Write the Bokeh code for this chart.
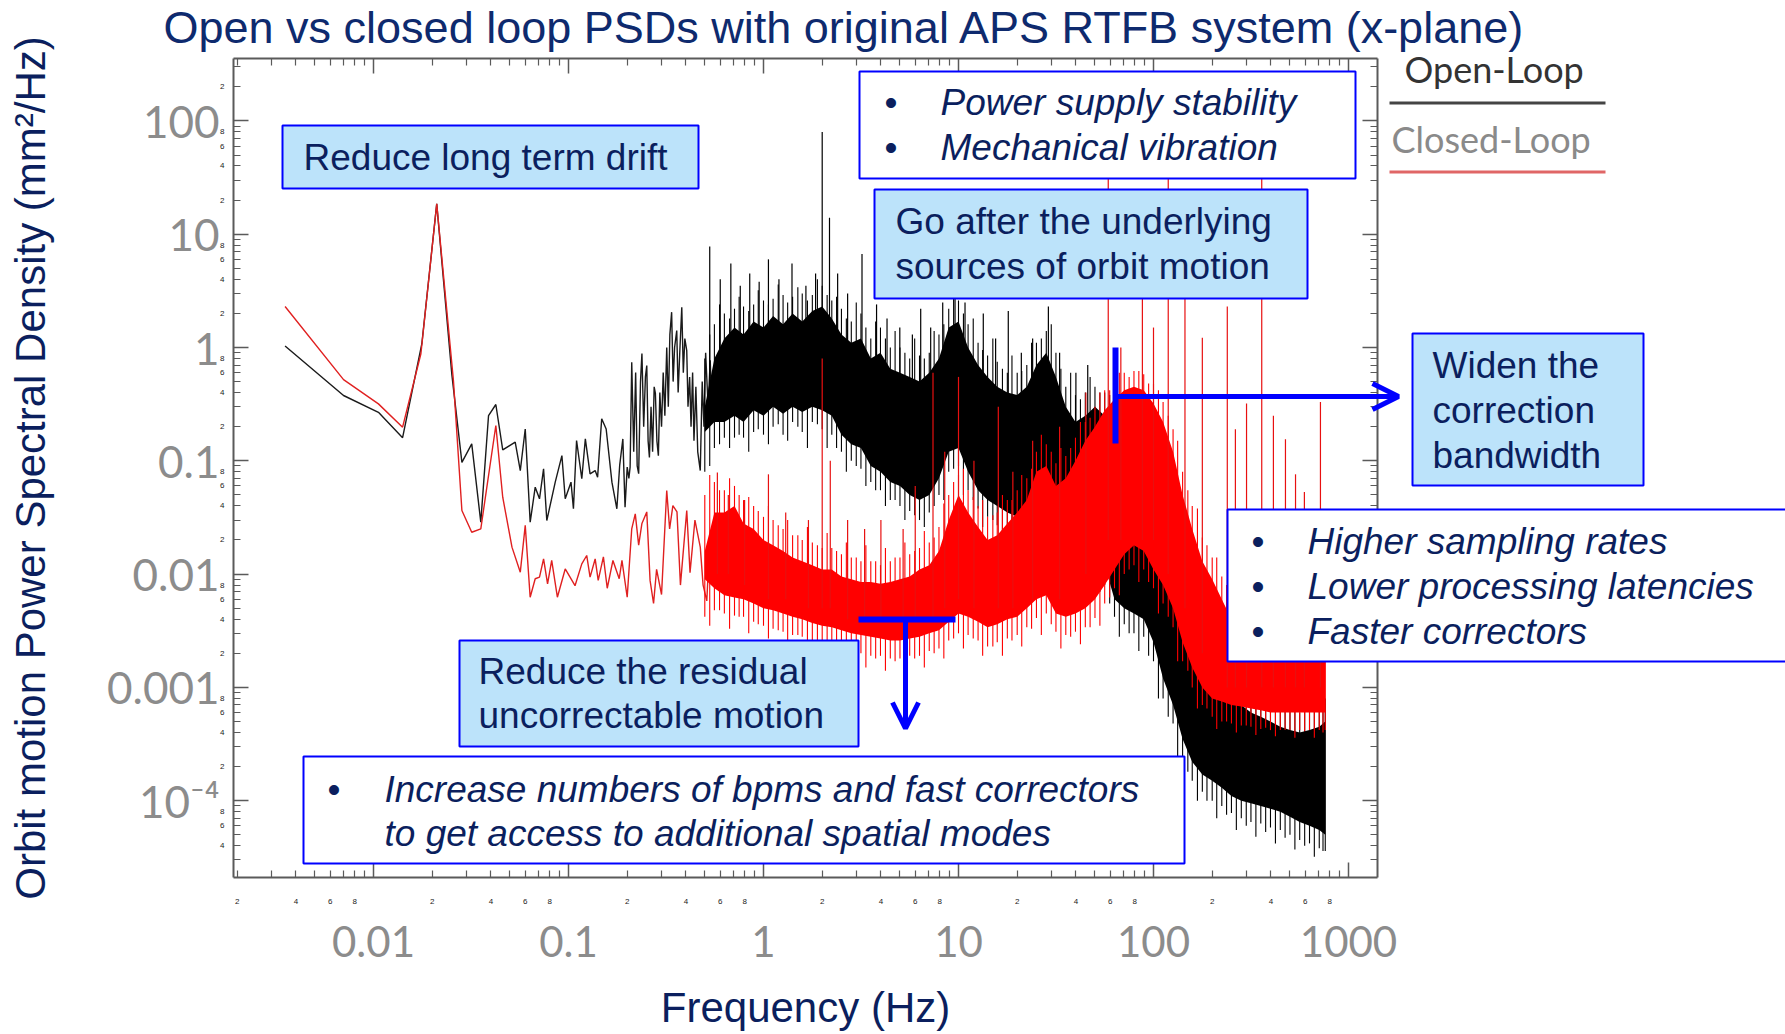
from bokeh.plotting import figure
from bokeh.models import (Range1d, LogAxis, FixedTicker, BoxAnnotation, Label,
                          Arrow, OpenHead)
from bokeh.embed import file_html
from bokeh.resources import INLINE

# ---------------- data ----------------
open_lf_f = [
    0.00352, 0.00702, 0.0106, 0.0141, 0.0177, 0.0211, 0.0252, 0.0284, 0.0319, 0.0355,
    0.0389, 0.0424, 0.046, 0.0533, 0.0566, 0.06, 0.0636, 0.0675, 0.071, 0.0745,
    0.0774, 0.0855, 0.0925, 0.0962, 0.103, 0.106, 0.110, 0.117, 0.122, 0.129,
    0.137, 0.141, 0.148, 0.156, 0.167, 0.177, 0.183, 0.19, 0.195, 0.2,
    0.204, 0.207, 0.211, 0.216, 0.221, 0.225, 0.229, 0.234, 0.238, 0.243,
    0.248, 0.252, 0.256, 0.26, 0.265, 0.27, 0.275, 0.279, 0.284, 0.289,
    0.294, 0.3, 0.306, 0.312, 0.319, 0.325, 0.331, 0.338, 0.344, 0.35,
    0.359, 0.365, 0.372, 0.381, 0.388, 0.395, 0.404, 0.41, 0.418, 0.425,
    0.433, 0.44, 0.45, 0.46, 0.474, 0.485, 0.495, 0.505, 0.52, 0.533,
    0.545]
open_lf_p = [
    1.03, 0.377, 0.268, 0.16, 1.08, 18.5, 0.586, 0.097, 0.141, 0.0287,
    0.251, 0.314, 0.125, 0.146, 0.082, 0.191, 0.0287, 0.0585, 0.0462, 0.085,
    0.0297, 0.0648, 0.111, 0.0462, 0.0648, 0.0377, 0.151, 0.0694, 0.156, 0.0768,
    0.082, 0.0717, 0.235, 0.191, 0.0648, 0.0377, 0.091, 0.156, 0.039, 0.088,
    0.07, 0.088, 0.74, 0.12, 0.6, 0.09, 0.077, 0.5, 0.885, 0.2,
    0.55, 0.694, 0.15, 0.107, 0.3, 0.12, 0.45, 0.393, 0.15, 0.111,
    0.4, 0.2, 0.6, 0.25, 1.0, 0.3, 1.3, 2.05, 0.5, 1.0,
    1.41, 0.4, 0.9, 2.27, 0.6, 1.2, 0.94, 0.3, 0.55, 0.2,
    0.6, 0.15, 0.45, 0.12, 0.082, 0.5, 0.2, 0.9, 0.3, 0.77,
    0.25]

closed_lf_f = [
    0.00352, 0.00702, 0.0106, 0.0141, 0.0175, 0.0211, 0.0257, 0.0284, 0.0319, 0.0355,
    0.0424, 0.046, 0.0513, 0.0566, 0.06, 0.0636, 0.0675, 0.071, 0.0745, 0.0781,
    0.082, 0.0877, 0.0962, 0.108, 0.117, 0.124, 0.129, 0.137, 0.142, 0.151,
    0.158, 0.169, 0.182, 0.188, 0.2, 0.211, 0.22, 0.229, 0.238, 0.252,
    0.262, 0.273, 0.283, 0.3, 0.319, 0.33, 0.343, 0.36, 0.375, 0.404,
    0.42, 0.445, 0.474, 0.49, 0.512, 0.53, 0.55]
closed_lf_p = [
    2.3, 0.52, 0.318, 0.198, 0.88, 18.5, 0.51, 0.0364, 0.0234, 0.0251,
    0.205, 0.0477, 0.0173, 0.0104, 0.0269, 0.00625, 0.0091, 0.0094, 0.0136, 0.0082,
    0.0132, 0.00625, 0.0111, 0.0079, 0.0123, 0.0146, 0.0094, 0.0136, 0.0088, 0.0142,
    0.0075, 0.0132, 0.0091, 0.0132, 0.00625, 0.0251, 0.034, 0.018, 0.028, 0.0354,
    0.0088, 0.0055, 0.011, 0.0066, 0.0547, 0.025, 0.0403, 0.0354, 0.008, 0.0364,
    0.0103, 0.03, 0.0173, 0.008, 0.0058, 0.02, 0.011]

band_f = [
    0.5, 0.56, 0.63, 0.71, 0.79, 0.89, 1.0, 1.12, 1.26, 1.41,
    1.58, 1.78, 2.0, 2.24, 2.51, 2.82, 3.16, 3.55, 3.98, 4.47,
    5.01, 5.62, 6.31, 7.08, 7.94, 8.91, 10.0, 11.2, 12.6, 14.1,
    15.8, 17.8, 20.0, 22.4, 25.1, 28.2, 31.6, 35.5, 39.8, 44.7,
    50.1, 56.2, 63.1, 70.8, 79.4, 89.1, 100, 112, 126, 141,
    158, 178, 200, 224, 251, 282, 316, 355, 398, 447,
    501, 562, 631, 708, 760]
open_band_hi = [
    0.3, 0.8, 1.2, 1.5, 1.3, 1.7, 1.5, 1.9, 1.6, 2.0,
    1.7, 2.1, 2.3, 1.8, 1.3, 1.1, 1.2, 0.8, 0.9, 0.65,
    0.6, 0.55, 0.5, 0.6, 0.8, 1.5, 1.7, 1.0, 0.7, 0.55,
    0.45, 0.4, 0.38, 0.45, 0.7, 0.9, 0.55, 0.3, 0.22, 0.25,
    0.3, 0.25, 0.15, 0.08, 0.05, 0.04, 0.025, 0.012, 0.006, 0.003,
    0.0018, 0.0013, 0.0011, 0.0009, 0.0008, 0.0007, 0.0006, 0.00055, 0.0005, 0.00045,
    0.00042, 0.0004, 0.00042, 0.00045, 0.0005]
open_band_lo = [
    0.18, 0.22, 0.22, 0.25, 0.22, 0.28, 0.25, 0.3, 0.26, 0.3,
    0.27, 0.3, 0.28, 0.25, 0.17, 0.14, 0.13, 0.09, 0.08, 0.065,
    0.06, 0.05, 0.045, 0.05, 0.07, 0.12, 0.13, 0.08, 0.055, 0.045,
    0.04, 0.035, 0.032, 0.035, 0.045, 0.05, 0.04, 0.028, 0.024, 0.022,
    0.02, 0.012, 0.006, 0.005, 0.0045, 0.004, 0.0025, 0.0012, 0.0007, 0.00035,
    0.00022, 0.00017, 0.00015, 0.00013, 0.00011, 0.0001, 0.000095, 0.00009, 0.000085, 0.00008,
    0.000072, 0.000065, 0.00006, 0.000055, 0.00005]
closed_band_hi = [
    0.016, 0.035, 0.035, 0.04, 0.028, 0.025, 0.02, 0.018, 0.016, 0.014,
    0.013, 0.012, 0.011, 0.011, 0.0095, 0.009, 0.0085, 0.0085, 0.0082, 0.0085,
    0.009, 0.0095, 0.011, 0.012, 0.016, 0.03, 0.05, 0.035, 0.026, 0.02,
    0.022, 0.028, 0.035, 0.045, 0.08, 0.09, 0.06, 0.07, 0.1, 0.15,
    0.2, 0.28, 0.35, 0.42, 0.45, 0.42, 0.32, 0.22, 0.12, 0.05,
    0.025, 0.013, 0.009, 0.006, 0.004, 0.0033, 0.003, 0.0028, 0.0026, 0.0025,
    0.0024, 0.0023, 0.0022, 0.0022, 0.0022]
closed_band_lo = [
    0.009, 0.0075, 0.0065, 0.0062, 0.006, 0.0055, 0.005, 0.0048, 0.0045, 0.0042,
    0.004, 0.0037, 0.0035, 0.0034, 0.0032, 0.003, 0.0029, 0.0028, 0.0027, 0.0026,
    0.0026, 0.0027, 0.0028, 0.003, 0.0032, 0.0038, 0.0045, 0.0042, 0.0038, 0.0034,
    0.0036, 0.004, 0.0042, 0.005, 0.006, 0.0065, 0.0045, 0.0042, 0.0045, 0.005,
    0.006, 0.008, 0.011, 0.015, 0.018, 0.016, 0.011, 0.008, 0.005, 0.0025,
    0.0015, 0.001, 0.0008, 0.00075, 0.0007, 0.00068, 0.00065, 0.00063, 0.0006, 0.0006,
    0.0006, 0.0006, 0.0006, 0.0006, 0.0006]

# noise fringe of the dense spectra: extent of the jitter, between the band points ...
fringe_f = [
    0.53, 0.595, 0.67, 0.75, 0.84, 0.94, 1.06, 1.19, 1.33, 1.5,
    1.68, 1.89, 2.12, 2.37, 2.66, 2.99, 3.35, 3.76, 4.22, 4.73,
    5.31, 5.96, 6.68, 7.5, 8.41, 9.44, 10.6, 11.9, 13.3, 15.0,
    16.8, 18.8, 21.1, 23.7, 26.6, 29.9, 33.5, 37.6, 42.2, 47.3,
    53.1, 59.6, 66.8, 75, 84.1, 94.4, 106, 119, 133, 150,
    168, 188, 211, 237, 266, 299, 335, 376, 422, 473,
    531, 596, 668, 740]
open_fringe_lo = [
    0.09, 0.14, 0.13, 0.17, 0.12, 0.19, 0.14, 0.21, 0.15, 0.2,
    0.13, 0.21, 0.13, 0.13, 0.08, 0.09, 0.06, 0.055, 0.04, 0.045,
    0.03, 0.033, 0.026, 0.04, 0.045, 0.085, 0.05, 0.045, 0.026, 0.03,
    0.019, 0.024, 0.018, 0.028, 0.025, 0.032, 0.017, 0.018, 0.012, 0.014,
    0.007, 0.0055, 0.0028, 0.003, 0.0021, 0.0019, 0.0008, 0.00055, 0.00024, 0.00018,
    0.0001, 0.0001, 0.00007, 0.000075, 0.000055, 0.00006, 0.000048, 0.000053, 0.000042, 0.000047,
    0.000037, 0.00004, 0.000032, 0.000036]
open_fringe_hi = [
    1.3, 2.4, 1.8, 2.8, 2.1, 3.2, 2.4, 3.6, 2.5, 3.4,
    2.6, 4.0, 2.9, 2.8, 1.8, 2.5, 1.5, 1.7, 1.2, 1.4,
    0.9, 1.2, 0.8, 1.4, 1.6, 3.0, 2.0, 1.8, 0.95, 1.2,
    0.65, 0.85, 0.62, 1.1, 1.2, 1.6, 0.65, 0.6, 0.35, 0.55,
    0.4, 0.38, 0.18, 0.13, 0.07, 0.065, 0.03, 0.018, 0.007, 0.0048,
    0.0024, 0.0023, 0.0015, 0.0016, 0.0011, 0.0012, 0.0009, 0.001, 0.00075, 0.0008,
    0.00065, 0.00072, 0.00065, 0.0008]
closed_fringe_lo = [
    0.0035, 0.0048, 0.0033, 0.0042, 0.003, 0.0036, 0.0027, 0.0032, 0.0024, 0.0029,
    0.0021, 0.0025, 0.0018, 0.0022, 0.0016, 0.002, 0.0015, 0.0018, 0.0014, 0.0017,
    0.0014, 0.0018, 0.0015, 0.002, 0.0018, 0.0027, 0.0022, 0.0027, 0.0019, 0.0023,
    0.0019, 0.0026, 0.0023, 0.0033, 0.0029, 0.0036, 0.0022, 0.0028, 0.0024, 0.0034,
    0.0035, 0.0062, 0.0065, 0.011, 0.0085, 0.0085, 0.0045, 0.0042, 0.0017, 0.0014,
    0.00065, 0.00065, 0.00043, 0.0005, 0.0004, 0.00046, 0.00038, 0.00044, 0.00037, 0.00042,
    0.00036, 0.00041, 0.00036, 0.0004]
closed_fringe_hi = [
    0.075, 0.055, 0.07, 0.05, 0.048, 0.036, 0.04, 0.027, 0.03, 0.022,
    0.026, 0.018, 0.023, 0.016, 0.019, 0.014, 0.018, 0.013, 0.017, 0.014,
    0.019, 0.016, 0.024, 0.021, 0.042, 0.065, 0.085, 0.048, 0.045, 0.033,
    0.05, 0.045, 0.075, 0.085, 0.17, 0.12, 0.13, 0.13, 0.22, 0.24,
    0.4, 0.42, 0.6, 0.55, 0.62, 0.48, 0.42, 0.25, 0.15, 0.055,
    0.038, 0.018, 0.014, 0.008, 0.007, 0.005, 0.0052, 0.0042, 0.0045, 0.0038,
    0.0041, 0.0035, 0.0038, 0.0034]

# ... and at the band points themselves (shorter jitter)
open_fringe2_hi = [
    0.8, 1.6, 2.0, 2.2, 2.3, 2.4, 2.6, 2.7, 2.9, 2.8,
    3.0, 2.9, 3.5, 2.6, 2.2, 1.7, 2.0, 1.2, 1.5, 1.0,
    1.0, 0.8, 0.85, 0.9, 1.3, 2.2, 2.6, 1.6, 1.1, 0.85,
    0.75, 0.6, 0.6, 0.7, 1.1, 1.4, 0.9, 0.45, 0.38, 0.4,
    0.45, 0.4, 0.25, 0.12, 0.08, 0.06, 0.04, 0.02, 0.009, 0.0048,
    0.0028, 0.002, 0.0017, 0.0014, 0.0012, 0.001, 0.00095, 0.0008, 0.0008, 0.0007,
    0.00065, 0.0006, 0.00065, 0.0007, 0.0008]
open_fringe2_lo = [
    0.08, 0.13, 0.16, 0.16, 0.16, 0.18, 0.17, 0.2, 0.17, 0.22,
    0.18, 0.22, 0.19, 0.17, 0.12, 0.1, 0.085, 0.065, 0.055, 0.045,
    0.04, 0.036, 0.03, 0.035, 0.05, 0.08, 0.09, 0.055, 0.038, 0.032,
    0.027, 0.025, 0.022, 0.024, 0.03, 0.035, 0.027, 0.02, 0.016, 0.016,
    0.013, 0.008, 0.0042, 0.0036, 0.003, 0.0028, 0.0017, 0.0008, 0.00048, 0.00024,
    0.00015, 0.00012, 0.0001, 0.00009, 0.000078, 0.00007, 0.000065, 0.000063, 0.000058, 0.000055,
    0.00005, 0.000045, 0.000042, 0.000038, 0.000036]
closed_fringe2_hi = [
    0.05, 0.065, 0.055, 0.06, 0.045, 0.04, 0.032, 0.03, 0.025, 0.022,
    0.02, 0.019, 0.017, 0.017, 0.015, 0.014, 0.013, 0.013, 0.012, 0.013,
    0.014, 0.015, 0.017, 0.019, 0.026, 0.05, 0.075, 0.055, 0.04, 0.032,
    0.035, 0.045, 0.055, 0.07, 0.12, 0.14, 0.095, 0.11, 0.16, 0.22,
    0.3, 0.42, 0.5, 0.6, 0.62, 0.58, 0.48, 0.33, 0.19, 0.08,
    0.04, 0.021, 0.014, 0.0095, 0.0065, 0.0052, 0.0048, 0.0044, 0.0041, 0.004,
    0.0038, 0.0036, 0.0035, 0.0035, 0.0035]
closed_fringe2_lo = [
    0.0042, 0.0048, 0.0045, 0.0043, 0.0042, 0.0038, 0.0035, 0.0033, 0.0031, 0.0029,
    0.0028, 0.0026, 0.0024, 0.0023, 0.0022, 0.0021, 0.002, 0.0019, 0.0019, 0.0018,
    0.0018, 0.0019, 0.0019, 0.0021, 0.0022, 0.0026, 0.003, 0.0029, 0.0026, 0.0023,
    0.0025, 0.0027, 0.0029, 0.0034, 0.0041, 0.0045, 0.0031, 0.0029, 0.0031, 0.0034,
    0.0041, 0.0055, 0.0075, 0.01, 0.012, 0.011, 0.0075, 0.0055, 0.0034, 0.0017,
    0.001, 0.0007, 0.00055, 0.0005, 0.00048, 0.00046, 0.00045, 0.00043, 0.00042, 0.00042,
    0.00042, 0.00042, 0.00042, 0.00042, 0.00042]

open_spike_f = [
    0.53, 0.6, 0.68, 0.76, 0.85, 0.95, 1.06, 1.2, 1.4, 1.65,
    1.85, 2.0, 2.18, 2.4, 2.7, 3.2, 3.8, 4.3, 5.0, 5.8,
    6.4, 7.2, 8.3, 9.6, 10.8, 13.4, 15.5, 18.0, 21.0, 24.0,
    28.9, 33.0, 40.0, 46.0]
open_spike_top = [
    7.8, 4.0, 5.5, 3.5, 4.5, 3.8, 6.0, 4.0, 5.5, 3.5,
    4.5, 80, 14, 4.5, 3.0, 6.7, 2.4, 1.8, 1.5, 1.3,
    2.2, 1.5, 2.5, 3.0, 2.5, 2.0, 1.2, 2.1, 0.9, 1.2,
    2.3, 0.9, 0.6, 0.7]
open_spike_base = [
    0.3, 0.3, 0.3, 0.4, 0.4, 0.4, 0.4, 0.4, 0.4, 0.4,
    0.4, 0.4, 0.4, 0.3, 0.2, 0.2, 0.1, 0.1, 0.1, 0.08,
    0.08, 0.08, 0.1, 0.15, 0.15, 0.08, 0.06, 0.05, 0.05, 0.05,
    0.06, 0.04, 0.03, 0.03]

closed_spike_f = [
    0.58, 0.66, 0.8, 1.06, 1.3, 1.7, 2.0, 2.2, 2.7, 3.3,
    4.0, 5.2, 6.0, 7.4, 8.5, 10.0, 12.0, 16.0, 19.0, 24.0,
    33.0, 45.0, 58.6, 68.0, 87.7, 100, 119, 145, 178, 239,
    263, 300, 359, 412, 475, 535, 594, 718]
closed_spike_top = [
    0.079, 0.05, 0.045, 0.076, 0.035, 0.03, 0.8, 0.1, 0.03, 0.025,
    0.03, 0.025, 0.06, 0.6, 0.12, 0.55, 0.1, 0.3, 0.08, 0.15,
    0.2, 0.4, 60, 1.0, 8, 1.5, 60, 8, 1.22, 2.3,
    0.19, 0.32, 60, 0.25, 0.155, 0.076, 0.053, 0.33]
closed_spike_base = [
    0.01, 0.01, 0.008, 0.006, 0.006, 0.005, 0.005, 0.005, 0.004, 0.004,
    0.004, 0.004, 0.004, 0.004, 0.005, 0.006, 0.005, 0.005, 0.005, 0.006,
    0.006, 0.01, 0.02, 0.02, 0.02, 0.02, 0.01, 0.005, 0.002, 0.001,
    0.001, 0.001, 0.001, 0.001, 0.001, 0.001, 0.001, 0.001]

# ticks and tick labels
x_major = [0.01, 0.1, 1, 10, 100, 1000]
x_major_labels = ["0.01", "0.1", "1", "10", "100", "1000"]
x_minor = [0.002, 0.003, 0.004, 0.005, 0.006, 0.007, 0.008, 0.009,
           0.02, 0.03, 0.04, 0.05, 0.06, 0.07, 0.08, 0.09,
           0.2, 0.3, 0.4, 0.5, 0.6, 0.7, 0.8, 0.9,
           2, 3, 4, 5, 6, 7, 8, 9,
           20, 30, 40, 50, 60, 70, 80, 90,
           200, 300, 400, 500, 600, 700, 800, 900]
y_major = [0.0001, 0.001, 0.01, 0.1, 1, 10, 100]
y_major_labels = ["10\u207b\u2074", "0.001", "0.01", "0.1", "1", "10", "100"]
y_minor = [0.00003, 0.00004, 0.00005, 0.00006, 0.00007, 0.00008, 0.00009,
           0.0002, 0.0003, 0.0004, 0.0005, 0.0006, 0.0007, 0.0008, 0.0009,
           0.002, 0.003, 0.004, 0.005, 0.006, 0.007, 0.008, 0.009,
           0.02, 0.03, 0.04, 0.05, 0.06, 0.07, 0.08, 0.09,
           0.2, 0.3, 0.4, 0.5, 0.6, 0.7, 0.8, 0.9,
           2, 3, 4, 5, 6, 7, 8, 9,
           20, 30, 40, 50, 60, 70, 80, 90,
           200, 300]
x_minor_lab_pos = [0.002, 0.004, 0.006, 0.008, 0.02, 0.04, 0.06, 0.08,
                   0.2, 0.4, 0.6, 0.8, 2, 4, 6, 8, 20, 40, 60, 80, 200, 400, 600, 800]
x_minor_lab_txt = ["2", "4", "6", "8"] * 6
y_minor_lab_pos = [0.00004, 0.00006, 0.00008, 0.0002, 0.0004, 0.0006, 0.0008,
                   0.002, 0.004, 0.006, 0.008, 0.02, 0.04, 0.06, 0.08,
                   0.2, 0.4, 0.6, 0.8, 2, 4, 6, 8, 20, 40, 60, 80, 200]
y_minor_lab_txt = ["4", "6", "8"] + ["2", "4", "6", "8"] * 6 + ["2"]

# ---------------- layout constants ----------------
W, H = 1785, 1034
FL, FR, FT, FB = 233, 1377, 58, 877          # pixel box of the data area
XPX, X1 = 195.0, 763.0                        # px per decade, x pixel of 1 Hz
YPX, Y1 = 113.3, 347.0                        # px per decade, y pixel of 1 mm^2/Hz
X_RANGE = (10 ** ((0 - X1) / XPX), 10 ** ((W - X1) / XPX))
Y_RANGE = (10 ** ((Y1 - H) / YPX), 10 ** ((Y1 - 0) / YPX))
X_DATA = (10 ** ((FL - X1) / XPX), 10 ** ((FR - X1) / XPX))
Y_DATA = (10 ** ((Y1 - FB) / YPX), 10 ** ((Y1 - FT) / YPX))

NAVY = "#0B1F5E"
BLUE = "#0000FF"
LIGHT = "#BCE3FA"
AX = "#5a5a5a"
TICKFONT = "Lato"
SANS = "Liberation Sans"

p = figure(width=W, height=H, x_axis_type="log", y_axis_type="log",
           x_range=Range1d(*X_RANGE), y_range=Range1d(*Y_RANGE),
           output_backend="svg", toolbar_location=None,
           min_border_left=0, min_border_right=0, min_border_top=0, min_border_bottom=0)
p.background_fill_color = "white"
p.border_fill_color = "white"
p.outline_line_color = None
p.xgrid.visible = False
p.ygrid.visible = False


def style_axis(ax, major, minor, loc, bounds):
    ax.ticker = FixedTicker(ticks=major, minor_ticks=minor)
    ax.fixed_location = loc
    ax.bounds = bounds
    ax.axis_line_color = AX
    ax.axis_line_width = 2
    ax.major_tick_line_color = AX
    ax.minor_tick_line_color = AX
    ax.major_tick_line_width = 1.5
    ax.minor_tick_line_width = 1.2
    ax.major_tick_out = 0
    ax.minor_tick_out = 0
    ax.major_tick_in = 15
    ax.minor_tick_in = 7


xa = p.xaxis[0]
style_axis(xa, x_major, x_minor, Y_DATA[0], X_DATA)
xa.major_label_overrides = dict(zip(x_major, x_major_labels))
xa.major_label_text_font = TICKFONT
xa.major_label_text_font_size = "42px"
xa.major_label_text_color = "#8c8c8c"
xa.major_label_standoff = 48
xa.axis_label = "Frequency (Hz)"
xa.axis_label_text_font = SANS
xa.axis_label_text_font_size = "42px"
xa.axis_label_text_font_style = "normal"
xa.axis_label_text_color = NAVY
xa.axis_label_standoff = 24

ya = p.yaxis[0]
style_axis(ya, y_major, y_minor, X_DATA[0], Y_DATA)
ya.major_label_overrides = dict(zip(y_major, y_major_labels))
ya.major_label_text_font = TICKFONT
ya.major_label_text_font_size = "44px"
ya.major_label_text_color = "#8c8c8c"
ya.major_label_standoff = 14
ya.axis_label = "Orbit motion Power Spectral Density (mm\u00b2/Hz)"
ya.axis_label_text_font = SANS
ya.axis_label_text_font_size = "42px"
ya.axis_label_text_font_style = "normal"
ya.axis_label_text_color = NAVY
ya.axis_label_standoff = 50

# mirrored tick axes (top and right), ticks only
for side, major, minor, loc, bounds in (("above", x_major, x_minor, Y_DATA[1], X_DATA),
                                        ("right", y_major, y_minor, X_DATA[1], Y_DATA)):
    ax = LogAxis()
    style_axis(ax, major, minor, loc, bounds)
    ax.major_label_text_font_size = "8px"
    ax.major_label_text_alpha = 0.0
    ax.major_label_standoff = 0
    p.add_layout(ax, side)

# small "2 4 6 8" labels of the minor ticks
for side, pos, lab, loc, bounds, standoff in (
        ("below", x_minor_lab_pos, x_minor_lab_txt, Y_DATA[0], X_DATA, 15),
        ("left", y_minor_lab_pos, y_minor_lab_txt, X_DATA[0], Y_DATA, 3)):
    ax = LogAxis(ticker=FixedTicker(ticks=pos), fixed_location=loc, bounds=bounds)
    ax.major_label_overrides = dict(zip(pos, lab))
    ax.axis_line_color = None
    ax.major_tick_line_color = None
    ax.minor_tick_line_color = None
    ax.major_label_text_font = SANS
    ax.major_label_text_font_size = "8px"
    ax.major_label_text_color = "#222222"
    ax.major_label_standoff = standoff
    p.add_layout(ax, side)

# ---------------- curves ----------------
p.line(open_lf_f, open_lf_p, line_color="#1a1a1a", line_width=1.4)
p.varea(x=band_f, y1=open_band_lo, y2=open_band_hi, fill_color="black")
p.segment(x0=fringe_f, y0=open_fringe_lo, x1=fringe_f, y1=open_fringe_hi,
          line_color="black", line_width=1.1)
p.segment(x0=band_f, y0=open_fringe2_lo, x1=band_f, y1=open_fringe2_hi,
          line_color="black", line_width=1.1)
p.segment(x0=open_spike_f, y0=open_spike_base, x1=open_spike_f, y1=open_spike_top,
          line_color="black", line_width=1.2)

p.line(closed_lf_f, closed_lf_p, line_color="#e02020", line_width=1.4)
p.varea(x=band_f, y1=closed_band_lo, y2=closed_band_hi, fill_color="#ff0000")
p.segment(x0=fringe_f, y0=closed_fringe_lo, x1=fringe_f, y1=closed_fringe_hi,
          line_color="#ff0000", line_width=1.1)
p.segment(x0=band_f, y0=closed_fringe2_lo, x1=band_f, y1=closed_fringe2_hi,
          line_color="#ff0000", line_width=1.1)
p.segment(x0=closed_spike_f, y0=closed_spike_base, x1=closed_spike_f, y1=closed_spike_top,
          line_color="#e81010", line_width=1.2)


# ---------------- annotations ----------------
def box(l, t, r, b, fill, line=BLUE):
    p.add_layout(BoxAnnotation(left=l, right=r, top=t, bottom=b,
                               left_units="canvas", right_units="canvas",
                               top_units="canvas", bottom_units="canvas",
                               fill_color=fill, fill_alpha=1.0,
                               line_color=line, line_width=2, line_alpha=1.0))


def txt(x, y, s, size=37, italic=False, color=NAVY, font=SANS, align="left", baseline="middle"):
    p.add_layout(Label(x=x, y=y, x_units="canvas", y_units="canvas", text=s,
                       text_font=font, text_font_size=f"{size}px", text_color=color,
                       text_align=align, text_baseline=baseline,
                       text_font_style="italic" if italic else "normal"))


def bar(x0, y0, x1, y1, w=6, head=False):
    p.add_layout(Arrow(x_start=x0, y_start=y0, x_end=x1, y_end=y1,
                       start_units="canvas", end_units="canvas",
                       line_color=BLUE, line_width=w, start=None,
                       end=OpenHead(size=26, line_color=BLUE, line_width=5) if head else None))


# boxes
box(282, 125, 698, 188, LIGHT)
box(859, 71, 1355, 178, "white")
box(874, 189, 1307, 298, LIGHT)
box(1412, 333, 1643, 485, LIGHT)
box(1227, 509, 1800, 661, "white")
box(459, 640, 858, 746, LIGHT)
box(303, 756, 1184, 863, "white")

txt(303, 157, "Reduce long term drift")
txt(884, 102, "\u2022")
txt(940, 102, "Power supply stability", italic=True)
txt(884, 147, "\u2022")
txt(940, 147, "Mechanical vibration", italic=True)
txt(895, 221, "Go after the underlying")
txt(895, 266, "sources of orbit motion")
txt(1432, 365, "Widen the")
txt(1432, 410, "correction")
txt(1432, 455, "bandwidth")
for yy, s in ((541, "Higher sampling rates"), (586, "Lower processing latencies"),
              (631, "Faster correctors")):
    txt(1251, yy, "\u2022")
    txt(1307, yy, s, italic=True)
txt(478, 671, "Reduce the residual")
txt(478, 715, "uncorrectable motion")
txt(327, 789, "\u2022")
txt(384, 789, "Increase numbers of bpms and fast correctors", italic=True)
txt(384, 833, "to get access to additional spatial modes", italic=True)

# arrows and bars
bar(1115, 347, 1115, 443, w=6)
bar(1115, 396, 1398, 396, w=5, head=True)
bar(858, 619, 955, 619, w=6)
bar(905, 619, 905, 728, w=5, head=True)

# legend
txt(1404, 68, "Open-Loop", size=36, color="#333333", font=TICKFONT)
txt(1391, 138, "Closed-Loop", size=36, color="#8a8a8a", font=TICKFONT)
box(1389, 101, 1605, 104, "#444444", line=None)
box(1389, 170, 1605, 173, "#e06666", line=None)

# title
txt(163, 27, "Open vs closed loop PSDs with original APS RTFB system (x-plane)",
    size=45, color="#0E2A6E")

open("out.html", "w").write(file_html(p, INLINE))
